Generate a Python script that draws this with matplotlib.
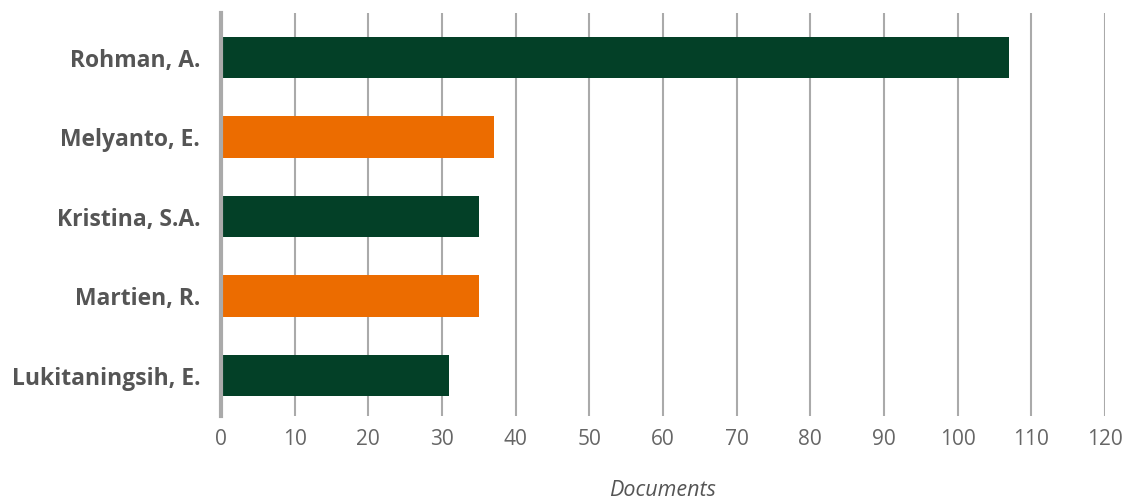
import matplotlib
matplotlib.use('Agg')
import matplotlib.pyplot as plt

# Data
authors = ['Rohman, A.', 'Melyanto, E.', 'Kristina, S.A.', 'Martien, R.', 'Lukitaningsih, E.']
documents = [107, 37, 35, 35, 31]
bar_colors = ['#034027', '#EC6C00', '#034027', '#EC6C00', '#034027']
x_ticks = list(range(0, 121, 10))

plt.rcParams['font.family'] = ['Open Sans', 'DejaVu Sans']

fig = plt.figure(figsize=(11.31, 4.99), dpi=100)
ax = fig.add_axes([0.1954, 0.166, 0.7816, 0.808])

ax.barh(range(len(authors)), documents, height=0.52, color=bar_colors, zorder=3)

ax.set_xlim(0, 120)
ax.set_ylim(len(authors) - 0.49, -0.56)
ax.set_xticks(x_ticks)
ax.set_yticks(range(len(authors)))
ax.set_yticklabels(authors, fontsize=16.5, fontweight='bold', color='#555555')
ax.tick_params(axis='x', labelsize=15, colors='#666666', length=0, pad=9)
ax.tick_params(axis='y', length=0, pad=15)

# Vertical gridlines
ax.grid(axis='x', color='#aaaaaa', linewidth=1.5, zorder=0)
ax.grid(axis='y', visible=False)

for side in ['top', 'right', 'bottom']:
    ax.spines[side].set_visible(False)
ax.spines['left'].set_color('#aaaaaa')
ax.spines['left'].set_linewidth(3)
ax.spines['left'].set_zorder(4)

ax.set_xlabel('Documents', fontsize=15.5, fontstyle='italic', color='#555555', labelpad=22)

fig.savefig('out.png', dpi=100)
